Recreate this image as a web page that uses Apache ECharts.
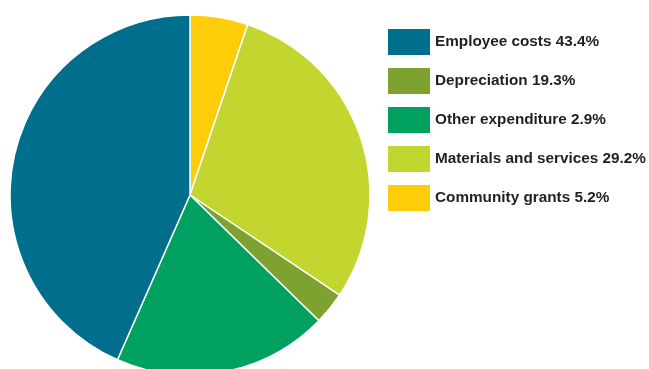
<!DOCTYPE html>
<html><head><meta charset="utf-8">
<script src="https://cdn.jsdelivr.net/npm/echarts@6/dist/echarts.min.js"></script>
<style>html,body{margin:0;padding:0;background:#fff}#c{width:649px;height:369px}</style>
</head><body><div id="c"></div>
<script>
// slices clockwise from 12 o'clock, as drawn
const sliceNames = ["Community grants", "Materials and services", "Depreciation", "Other expenditure", "Employee costs"];
const sliceValues = [5.2, 29.2, 2.9, 19.3, 43.4];
const sliceColors = ["#fecd0a", "#c2d62f", "#7da22f", "#00a160", "#006f8e"];
// legend order and printed labels
const legendNames = ["Employee costs", "Depreciation", "Other expenditure", "Materials and services", "Community grants"];
const legendLabels = ["Employee costs 43.4%", "Depreciation 19.3%", "Other expenditure 2.9%", "Materials and services 29.2%", "Community grants 5.2%"];

const chart = echarts.init(document.getElementById('c'), null, {renderer: 'canvas'});
chart.setOption({
  animation: false,
  legend: {
    data: legendNames,
    orient: 'vertical',
    left: 388, top: 29,
    padding: 0,
    itemWidth: 42, itemHeight: 26, itemGap: 13,
    icon: 'rect',
    selectedMode: false,
    itemStyle: {borderWidth: 0},
    formatter: n => legendLabels[legendNames.indexOf(n)],
    textStyle: {fontFamily: 'Liberation Sans, Arial, sans-serif', fontWeight: 'bold', fontSize: 15.3, color: '#231f20', padding: [0,0,0,0]}
  },
  series: [{
    type: 'pie',
    center: [190, 195],
    radius: [0, 180],
    startAngle: 90,
    clockwise: true,
    label: {show: false},
    labelLine: {show: false},
    silent: true,
    itemStyle: {borderColor: '#fff', borderWidth: 1.5},
    data: sliceNames.map((n, i) => ({name: n, value: sliceValues[i], itemStyle: {color: sliceColors[i]}}))
  }]
});
</script></body></html>
